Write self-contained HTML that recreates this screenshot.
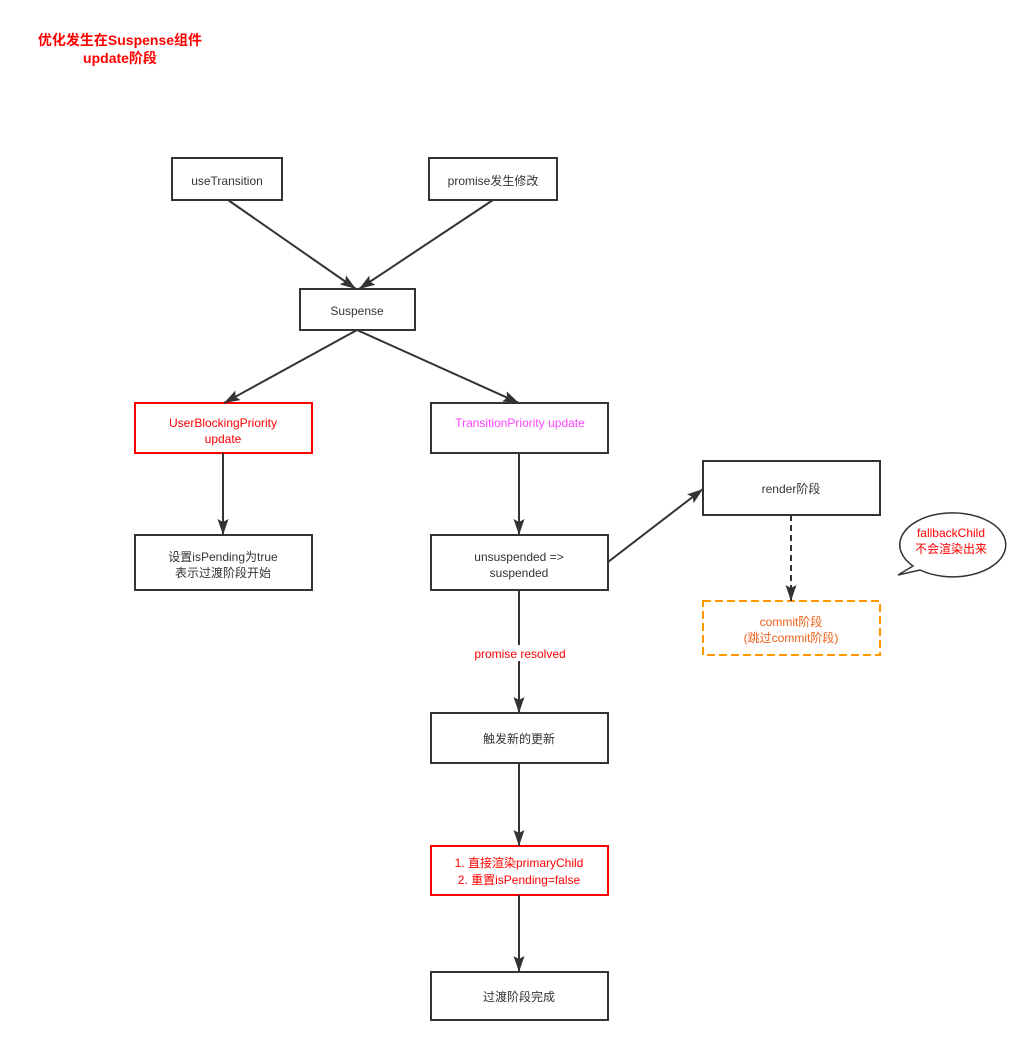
<!DOCTYPE html>
<html><head><meta charset="utf-8"><style>
body{margin:0;background:#fff;width:1029px;height:1045px;overflow:hidden}
svg text{font-family:"Liberation Sans","Noto Sans CJK SC",sans-serif;font-size:12px;text-anchor:middle}
</style></head><body>
<svg width="1029" height="1045" xmlns="http://www.w3.org/2000/svg">
<defs><marker id="a" markerWidth="18" markerHeight="12" refX="16" refY="6" orient="auto" markerUnits="userSpaceOnUse"><path d="M0,0.5 L16,6 L0,11.5 L3,6 z" fill="#333"/></marker></defs>
<text x="120" y="45" fill="#f00" font-weight="bold" style="font-size:14px">优化发生在Suspense组件</text>
<text x="120" y="63" fill="#f00" font-weight="bold" style="font-size:14px">update阶段</text>
<g fill="#fff" stroke="#333" stroke-width="2">
<rect x="172" y="158" width="110" height="42"/>
<rect x="429" y="158" width="128" height="42"/>
<rect x="300" y="289" width="115" height="41"/>
<rect x="135" y="403" width="177" height="50" stroke="#f00"/>
<rect x="431" y="403" width="177" height="50"/>
<rect x="135" y="535" width="177" height="55"/>
<rect x="431" y="535" width="177" height="55"/>
<rect x="703" y="461" width="177" height="54"/>
<rect x="703" y="601" width="177" height="54" stroke="#f90" stroke-dasharray="8,4"/>
<rect x="431" y="713" width="177" height="50"/>
<rect x="431" y="846" width="177" height="49" stroke="#f00"/>
<rect x="431" y="972" width="177" height="48"/>
</g>
<path d="M898,575 L913,566 A53,32 0 1 1 920,570 Z" fill="#fff" stroke="#333" stroke-width="1.5"/>
<g stroke="#333" stroke-width="2" fill="none" marker-end="url(#a)">
<line x1="228" y1="200" x2="356" y2="289"/>
<line x1="493" y1="200" x2="359" y2="289"/>
<line x1="357" y1="330" x2="224" y2="403"/>
<line x1="357" y1="330" x2="519" y2="403"/>
<line x1="223" y1="453" x2="223" y2="535"/>
<line x1="519" y1="453" x2="519" y2="535"/>
<line x1="608" y1="562" x2="703" y2="489"/>
<line x1="791" y1="515" x2="791" y2="601" stroke-dasharray="6,4"/>
<line x1="519" y1="590" x2="519" y2="713"/>
<line x1="519" y1="763" x2="519" y2="846"/>
<line x1="519" y1="895" x2="519" y2="972"/>
</g>
<rect x="466" y="645" width="108" height="16" fill="#fff"/>
<g fill="#333">
<text x="227" y="185">useTransition</text>
<text x="493" y="185">promise发生修改</text>
<text x="357" y="315">Suspense</text>
<text x="223" y="427" fill="#f00">UserBlockingPriority</text>
<text x="223" y="443" fill="#f00">update</text>
<text x="520" y="427" fill="#f4f">TransitionPriority update</text>
<text x="223" y="561">设置isPending为true</text>
<text x="223" y="577">表示过渡阶段开始</text>
<text x="519" y="561">unsuspended =&gt;</text>
<text x="519" y="577">suspended</text>
<text x="791" y="493">render阶段</text>
<text x="791" y="626" fill="#f0611c">commit阶段</text>
<text x="791" y="642" fill="#f0611c">(跳过commit阶段)</text>
<text x="951" y="537" fill="#f00">fallbackChild</text>
<text x="951" y="553" fill="#f00">不会渲染出来</text>
<text x="520" y="658" fill="#f00">promise resolved</text>
<text x="519" y="743">触发新的更新</text>
<text x="519" y="867" fill="#f00">1. 直接渲染primaryChild</text>
<text x="519" y="884" fill="#f00">2. 重置isPending=false</text>
<text x="519" y="1001">过渡阶段完成</text>
</g>
</svg>
</body></html>
